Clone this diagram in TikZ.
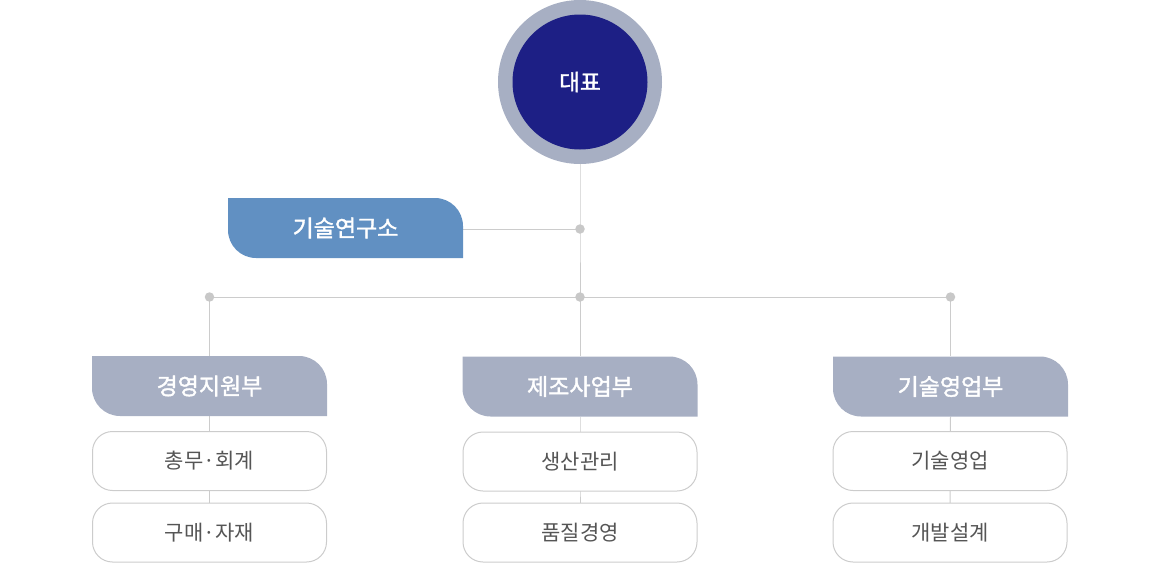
\documentclass[tikz,border=0pt]{standalone}
\usepackage{fontspec}
\setmainfont{Noto Sans CJK KR}
\newfontfamily\medfont[FakeBold=1.6]{Noto Sans CJK KR}
\usetikzlibrary{backgrounds}
\definecolor{ring}{HTML}{A7AFC3}
\definecolor{navy}{HTML}{1D1F85}
\definecolor{labblue}{HTML}{6190C2}
\definecolor{deptgray}{HTML}{A7AFC3}
\definecolor{linegray}{HTML}{CCCCCC}
\definecolor{dotgray}{HTML}{C8C8C8}
\definecolor{subtext}{HTML}{555555}
\tikzset{
  tabbox/.style={minimum width=235pt, minimum height=60pt, inner sep=0pt, text=white,
    font=\medfont\fontsize{23}{27}\selectfont,
    path picture={\fill[#1] (path picture bounding box.north west)
      -- ([xshift=-28pt]path picture bounding box.north east)
      arc[start angle=90,end angle=0,radius=28pt]
      -- (path picture bounding box.south east)
      -- ([xshift=28pt]path picture bounding box.south west)
      arc[start angle=270,end angle=180,radius=28pt] -- cycle;}},
  subbox/.style={draw=linegray, line width=1pt, fill=white, rounded corners=20pt,
    minimum width=234pt, minimum height=59pt, inner sep=0pt, text=subtext,
    font=\fontsize{21}{25}\selectfont},
  dot/.style={circle, fill=dotgray, minimum size=9.5pt, inner sep=0pt},
  conn/.style={draw=linegray, line width=1pt}
}
\begin{document}
\begin{tikzpicture}[x=1pt,y=-1pt]
\useasboundingbox (0,0) rectangle (1160,563);
% CEO
\node[circle, fill=ring, minimum size=164pt, inner sep=0pt] (ceoring) at (580,82) {};
\node[circle, fill=navy, minimum size=135pt, inner sep=0pt, text=white,
  font=\medfont\fontsize{22.5}{26}\selectfont] (ceo) at (580,82) {대표};
% dots
\node[dot] (d0) at (580,229) {};
\node[dot] (d1) at (580,297) {};
\node[dot] (dL) at (209.5,297) {};
\node[dot] (dR) at (950.5,297) {};
% lab
\node[tabbox=labblue] (lab) at (345.5,228) {기술연구소};
% departments
\node[tabbox=deptgray] (deptA) at (209.5,386) {경영지원부};
\node[tabbox=deptgray] (deptB) at (580,386.5) {제조사업부};
\node[tabbox=deptgray] (deptC) at (950.5,386.5) {기술영업부};
% sub boxes
\node[subbox] (a1) at (209.5,461) {총무·회계};
\node[subbox] (a2) at (209.5,532.5) {구매·자재};
\node[subbox] (b1) at (580,461.5) {생산관리};
\node[subbox] (b2) at (580,532.5) {품질경영};
\node[subbox] (c1) at (950,461) {기술영업};
\node[subbox] (c2) at (950,532.5) {개발설계};
\begin{scope}[on background layer]
  \draw[conn] (ceoring.south) -- (d0.center) -- (d1.center);
  \draw[conn] (d0.center) -- (d0 -| lab.east);
  \draw[conn] (dL.center) -- (dR.center);
  \draw[conn] (dL.center) -- (deptA.north);
  \draw[conn] (d1.center) -- (deptB.north);
  \draw[conn] (dR.center) -- (deptC.north);
  \draw[conn] (deptA.south) -- (a1.center) -- (a2.center);
  \draw[conn] (deptB.south) -- (b1.center) -- (b2.center);
  \draw[conn] (deptC.south) -- (c1.center) -- (c2.center);
\end{scope}
\end{tikzpicture}
\end{document}
